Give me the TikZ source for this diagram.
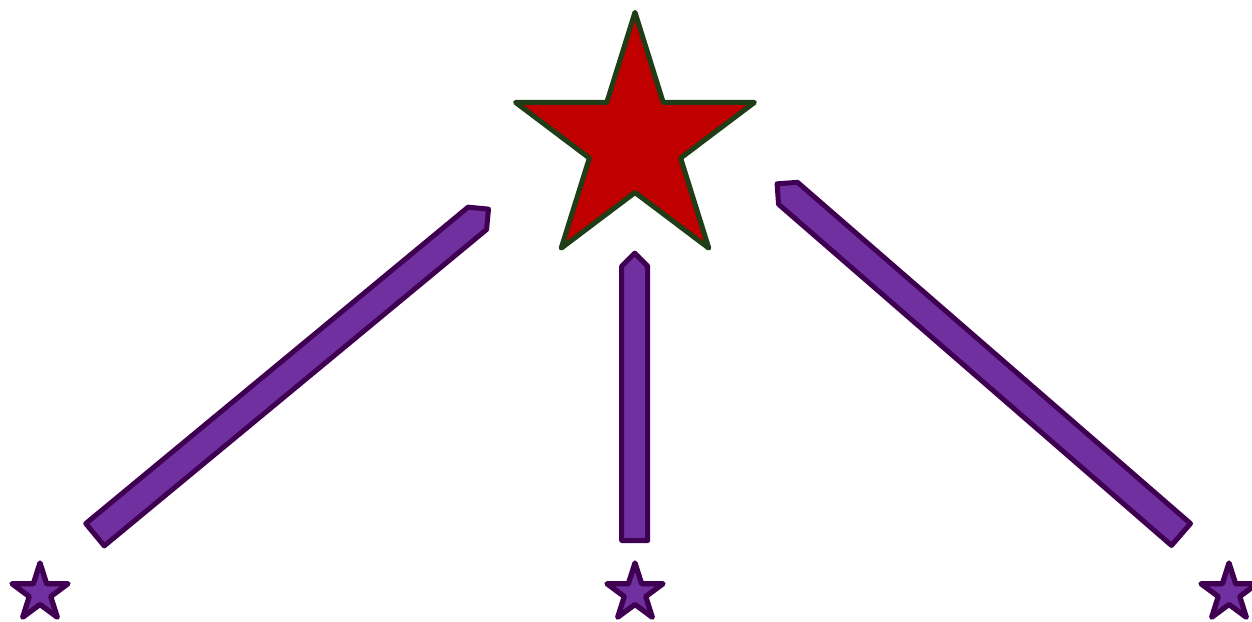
\documentclass[tikz,border=0pt]{standalone}
\usetikzlibrary{calc}
\definecolor{pfill}{HTML}{7030A0}
\definecolor{pline}{HTML}{3F0052}
\definecolor{rfill}{HTML}{C00000}
\definecolor{gline}{HTML}{1F3D17}
\tikzset{
  smallstar/.style={fill=pfill, draw=pline, line width=0.105cm, line join=round},
  bigstar/.style={fill=rfill, draw=gline, line width=0.1cm, line join=round},
  fatarrow/.style={fill=pfill, draw=pline, line width=0.1cm, line join=round}
}
% star polygon: #1 centre, #2 x radius, #3 y radius, #4 style
\newcommand\mystar[4]{%
  \draw[#4] ($(#1)+(-90:#2 and #3)$)
    -- ($(#1)+(-54:0.382*#2 and 0.382*#3)$)
    -- ($(#1)+(-18:#2 and #3)$)
    -- ($(#1)+(18:0.382*#2 and 0.382*#3)$)
    -- ($(#1)+(54:#2 and #3)$)
    -- ($(#1)+(90:0.382*#2 and 0.382*#3)$)
    -- ($(#1)+(126:#2 and #3)$)
    -- ($(#1)+(162:0.382*#2 and 0.382*#3)$)
    -- ($(#1)+(198:#2 and #3)$)
    -- ($(#1)+(234:0.382*#2 and 0.382*#3)$)
    -- cycle;}
% fat arrow: #1 base, #2 tip, #3 half width (length)
\newcommand\myarrow[3]{%
  \path ($(#2)!#3!(#1)$) coordinate (famid);
  \draw[fatarrow] ($(#1)!#3!90:(#2)$) -- ($(famid)!#3!-90:(#1)$) -- (#2)
    -- ($(famid)!#3!90:(#1)$) -- ($(#1)!#3!-90:(#2)$) -- cycle;}
\begin{document}
\begin{tikzpicture}[x=0.02cm, y=-0.02cm]
  \useasboundingbox (0,0) rectangle (1252,622);
  % star centres
  \coordinate (big) at (635,142.7);
  \coordinate (sl) at (40,593);
  \coordinate (sm) at (635,593);
  \coordinate (sr) at (1229,593);
  % arrow ends
  \coordinate (lbase) at (95,534.7);
  \coordinate (ltip) at (488.5,209.1);
  \coordinate (mbase) at (634.7,540.5);
  \coordinate (mtip) at (634.7,253.2);
  \coordinate (rbase) at (1181,534.5);
  \coordinate (rtip) at (777.1,183.8);
  % stars
  \mystar{big}{125.6}{130.4}{bigstar}
  \mystar{sl}{29.5}{30}{smallstar}
  \mystar{sm}{29.5}{30}{smallstar}
  \mystar{sr}{29.5}{30}{smallstar}
  % arrows
  \myarrow{lbase}{ltip}{0.29cm}
  \myarrow{mbase}{mtip}{0.26cm}
  \myarrow{rbase}{rtip}{0.29cm}
\end{tikzpicture}
\end{document}
